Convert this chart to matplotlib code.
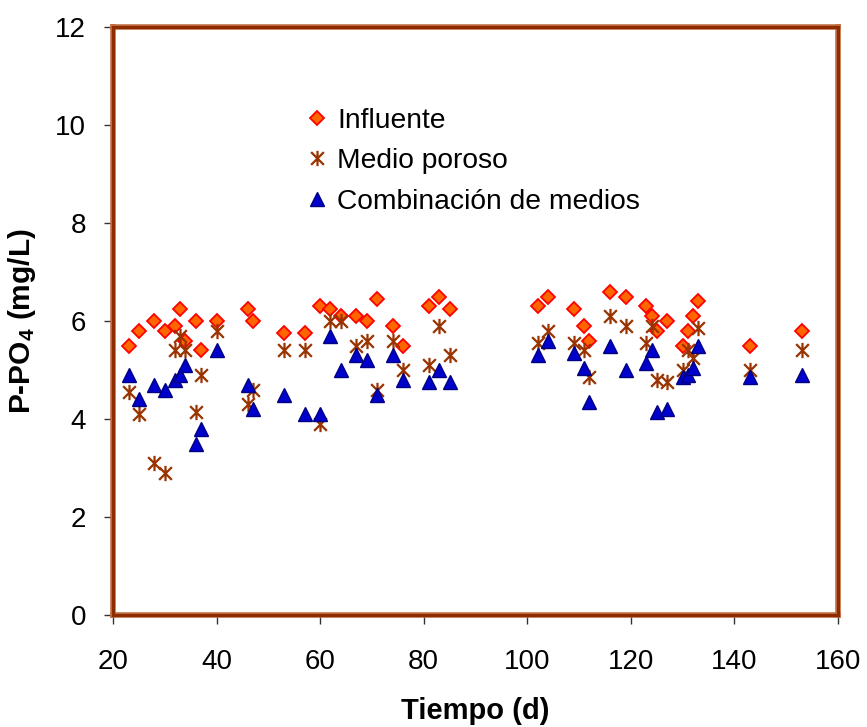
import matplotlib.pyplot as plt
from matplotlib.path import Path
from matplotlib.patches import Rectangle

plt.rcParams['font.family'] = ['Liberation Sans', 'DejaVu Sans']
plt.rcParams['mathtext.fontset'] = 'custom'
plt.rcParams['mathtext.rm'] = 'Liberation Sans'
plt.rcParams['mathtext.bf'] = 'Liberation Sans:bold'
plt.rcParams['mathtext.default'] = 'bf'

# dias de muestreo
dias = [23, 25, 28, 30, 32, 33, 34, 36, 37, 40, 46, 47, 53, 57, 60, 62, 64,
        67, 69, 71, 74, 76, 81, 83, 85, 102, 104, 109, 111, 112, 116, 119,
        123, 124, 125, 127, 130, 131, 132, 133, 143, 153]

influente = [5.5, 5.8, 6.0, 5.8, 5.9, 6.25, 5.6, 6.0, 5.4, 6.0, 6.25, 6.0,
             5.75, 5.75, 6.3, 6.25, 6.1, 6.1, 6.0, 6.45, 5.9, 5.5, 6.3, 6.5,
             6.25, 6.3, 6.5, 6.25, 5.9, 5.6, 6.6, 6.5, 6.3, 6.1, 5.8, 6.0,
             5.5, 5.8, 6.1, 6.4, 5.5, 5.8]

medio_poroso = [4.55, 4.1, 3.1, 2.9, 5.4, 5.7, 5.4, 4.15, 4.9, 5.8, 4.3, 4.6,
                5.4, 5.4, 3.9, 6.0, 6.0, 5.5, 5.6, 4.6, 5.6, 5.0, 5.1, 5.9,
                5.3, 5.55, 5.8, 5.55, 5.4, 4.85, 6.1, 5.9, 5.55, 5.9, 4.8,
                4.75, 5.0, 5.4, 5.25, 5.85, 5.0, 5.4]

combinacion = [4.9, 4.4, 4.7, 4.6, 4.8, 4.9, 5.1, 3.5, 3.8, 5.4, 4.7, 4.2,
               4.5, 4.1, 4.1, 5.7, 5.0, 5.3, 5.2, 4.5, 5.3, 4.8, 4.75, 5.0,
               4.75, 5.3, 5.6, 5.35, 5.05, 4.35, 5.5, 5.0, 5.15, 5.4, 4.15,
               4.2, 4.85, 4.9, 5.05, 5.5, 4.85, 4.9]

# marcador tipo asterisco de Excel (X con linea vertical)
asterisco = Path([(-1, -1), (1, 1), (-1, 1), (1, -1), (0, -1.2), (0, 1.2)],
                 [Path.MOVETO, Path.LINETO, Path.MOVETO, Path.LINETO,
                  Path.MOVETO, Path.LINETO])

fig = plt.figure(figsize=(8.67, 7.27), dpi=100)
ax = fig.add_axes([0.1303, 0.154, 0.8363, 0.8089])

ax.plot(dias, influente, linestyle='none', marker='D', markersize=7,
        markerfacecolor='#FF6600', markeredgecolor='#FF0000',
        markeredgewidth=1.3, label='Influente', zorder=3)
ax.plot(dias, medio_poroso, linestyle='none', marker=asterisco, markersize=11,
        markeredgecolor='#993300', markeredgewidth=1.6, color='#993300',
        label='Medio poroso', zorder=3)
ax.plot(dias, combinacion, linestyle='none', marker='^', markersize=10,
        markerfacecolor='#0000CC', markeredgecolor='#000080',
        markeredgewidth=1.0, label='Combinación de medios', zorder=3)

ax.set_xlim(20, 160)
ax.set_ylim(0, 12)
ax.set_xticks(range(20, 161, 20))
ax.set_yticks(range(0, 13, 2))

for s in ax.spines.values():
    s.set_color('#C06A40')
    s.set_linewidth(4)
ax.add_patch(Rectangle((0, 0), 1, 1, transform=ax.transAxes, fill=False,
                       edgecolor='#8E2C00', linewidth=2.2, clip_on=False,
                       zorder=4))

ax.tick_params(axis='x', direction='out', length=6.5, width=1, color='#333333',
               labelsize=20, pad=18, top=False)
ax.tick_params(axis='y', direction='out', length=6.5, width=1, color='#333333',
               labelsize=20, pad=13, right=False)

ax.set_xlabel('Tiempo (d)', fontsize=21, fontweight='bold', labelpad=16)
ax.set_ylabel('P-PO$_4$ (mg/L)', fontsize=21.5, fontweight='bold', labelpad=12)

ax.legend(loc='upper left', bbox_to_anchor=(0.353, 0.852),
          bbox_transform=fig.transFigure, frameon=False, fontsize=20.3,
          handlelength=0.8, handletextpad=0.3, labelspacing=0.52,
          borderpad=0, borderaxespad=0)

plt.savefig('out.png', dpi=100)
